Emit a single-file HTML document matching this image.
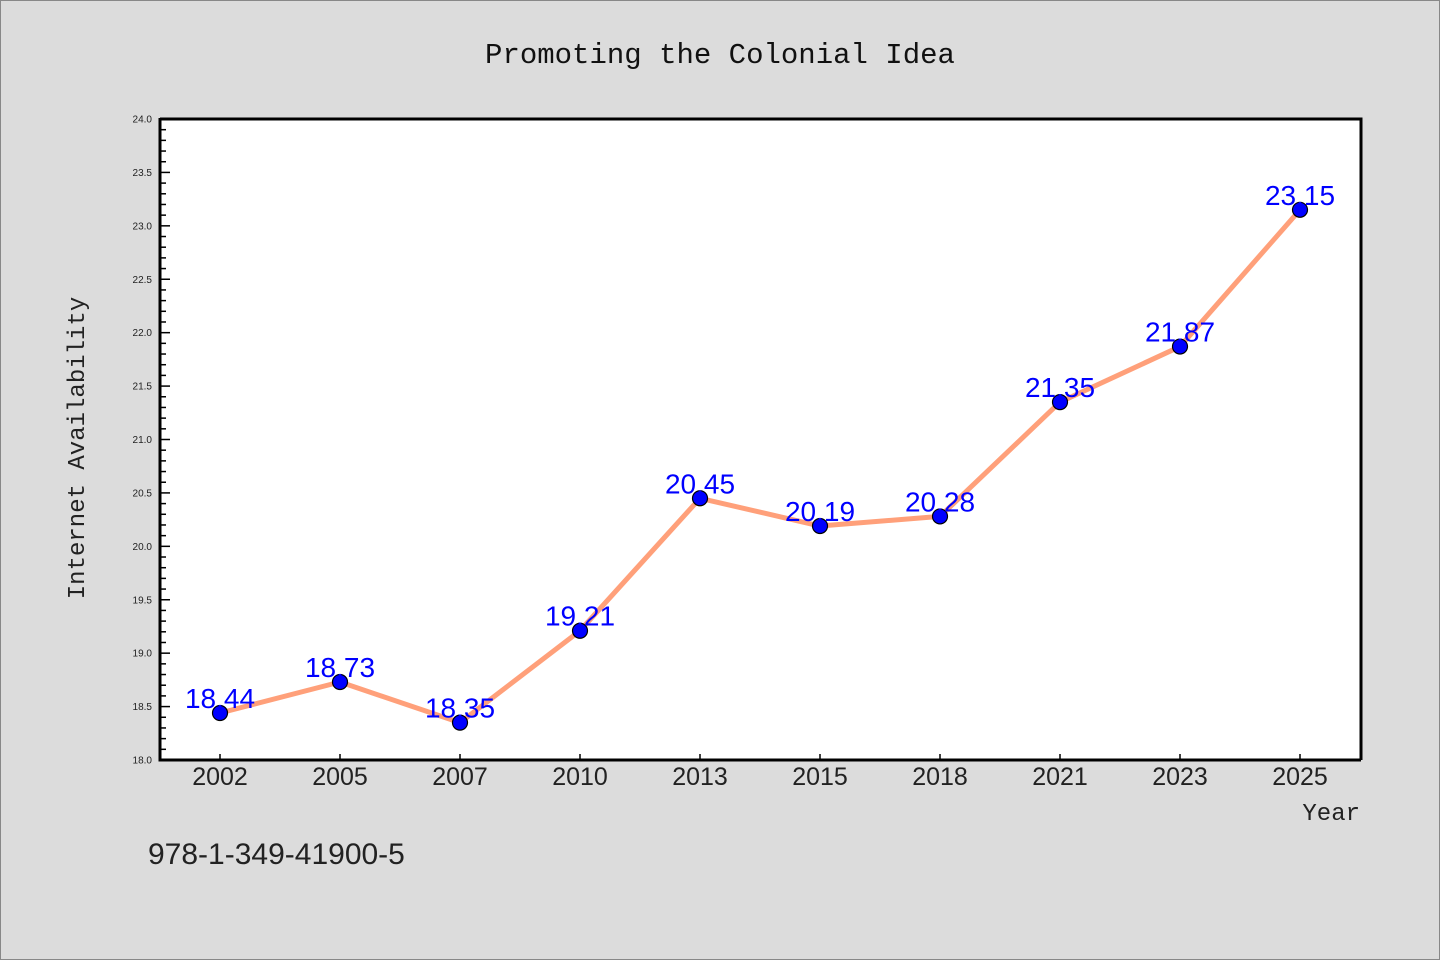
<!DOCTYPE html>
<html><head><meta charset="utf-8"><style>
html,body{margin:0;padding:0;background:#dcdcdc;}
svg{display:block;}
text{font-family:"Liberation Sans","DejaVu Sans",sans-serif;}
.mono{font-family:"Liberation Mono","DejaVu Sans Mono",monospace;}
</style></head><body>
<svg id="chart" width="1440" height="960" xmlns="http://www.w3.org/2000/svg">
<rect x="0.5" y="0.5" width="1439" height="959" fill="#dcdcdc" stroke="#888"/>
<text class="mono" x="720" y="63" font-size="29" text-anchor="middle" fill="#111">Promoting the Colonial Idea</text>
<rect x="160" y="119" width="1201" height="641" fill="#fff"/>
<g id="yaxis"></g>
<g id="xaxis"></g>
<g id="series"></g>
<path d="M160,119 H1361 V760" fill="none" stroke="#000" stroke-width="3"/>
<path d="M160,118 V760 H1361" fill="none" stroke="#000" stroke-width="3"/>
<text class="mono" x="0" y="0" font-size="24" fill="#222" text-anchor="middle" transform="translate(84,448) rotate(-90)">Internet Availability</text>
<text class="mono" x="1360" y="820" font-size="24" fill="#222" text-anchor="end">Year</text>
<text x="148" y="864" font-size="30" fill="#222">978-1-349-41900-5</text>
</svg>
<script>
const categories=["2002","2005","2007","2010","2013","2015","2018","2021","2023","2025"];
const values=[18.44,18.73,18.35,19.21,20.45,20.19,20.28,21.35,21.87,23.15];
const valueLabels=["18.44","18.73","18.35","19.21","20.45","20.19","20.28","21.35","21.87","23.15"];
const yTicks=["18.0","18.5","19.0","19.5","20.0","20.5","21.0","21.5","22.0","22.5","23.0","23.5","24.0"];
const yMin=18,yMax=24,L=160,R=1361,T=119,B=760;
const NS="http://www.w3.org/2000/svg";
function X(i){return 220+(i)*(1300-220)/(categories.length-1);}
function Y(v){return B-(v-yMin)/(yMax-yMin)*(B-T);}
function mk(tag,attrs,parent){const e=document.createElementNS(NS,tag);for(const k in attrs)e.setAttribute(k,attrs[k]);parent.appendChild(e);return e;}
const ya=document.getElementById('yaxis'),xa=document.getElementById('xaxis'),se=document.getElementById('series');
for(let k=0;k<=60;k++){const v=yMin+k*0.1;const y=Y(v);const major=k%5===0;
 const t=mk('line',{x1:L,x2:L+(major?10:6),y1:y,y2:y,stroke:'#000','stroke-width':1.5},ya);
 
 }
yTicks.forEach(s=>{const y=Y(parseFloat(s));const t=mk('text',{x:152,y:y+3.5,'font-size':10,'text-anchor':'end',fill:'#222'},ya);t.textContent=s;
 
 });
categories.forEach((c,i)=>{const x=X(i);const t=mk('line',{x1:x,x2:x,y1:B,y2:B-6,stroke:'#000','stroke-width':1.5},xa);
 
 
 const l=mk('text',{x:x,y:785,'font-size':25,'text-anchor':'middle',fill:'#222'},xa);l.textContent=c;
 
 });
const pl=mk('polyline',{points:values.map((v,i)=>X(i)+','+Y(v)).join(' '),fill:'none',stroke:'#ffa07a','stroke-width':5,'stroke-linejoin':'round'},se);


values.forEach((v,i)=>{const c=mk('circle',{cx:X(i),cy:Y(v),r:7.5,fill:'#0000ff',stroke:'#000','stroke-width':1.2},se);
 
 });
values.forEach((v,i)=>{const t=mk('text',{x:X(i),y:Y(v)-5,'font-size':28,'text-anchor':'middle',fill:'#0000ff'},se);t.textContent=valueLabels[i];
 
 });
</script>
</body></html>
